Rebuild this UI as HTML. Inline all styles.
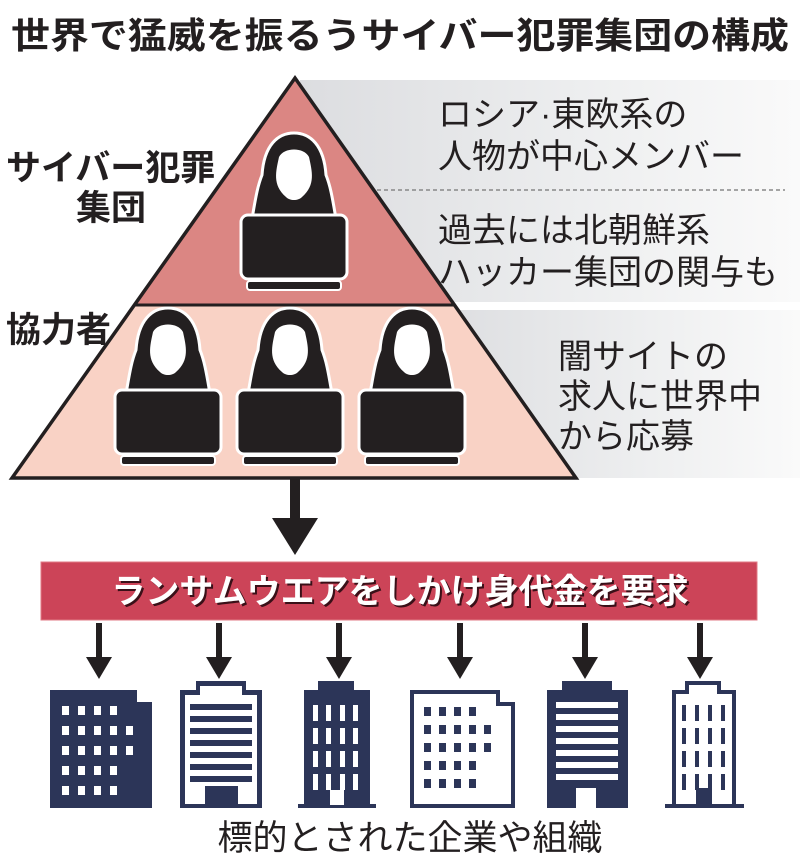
<!DOCTYPE html>
<html><head><meta charset="utf-8"><style>
html,body{margin:0;padding:0;background:#fff;}
svg{display:block;}
text{font-family:"Liberation Sans","Noto Sans CJK JP",sans-serif;}
</style></head><body>
<svg width="800" height="863" viewBox="0 0 800 863" xmlns="http://www.w3.org/2000/svg">
<defs>
<linearGradient id="g" x1="0" x2="1" y1="0" y2="0">
<stop offset="0" stop-color="#dcdde0"/><stop offset="0.6" stop-color="#eeeff0"/><stop offset="1" stop-color="#fafafa"/>
</linearGradient>
<g id="hk">
<path d="M-42,84 C-38,60 -36,50 -32,40 C-30,10 -16,-2 0,-2 C16,-2 30,10 32,40 C36,50 38,60 42,84 Z" fill="#231f20" stroke="#fff" stroke-width="3"/>
<path d="M-15,22 C-18,36 -22,50 -8,62 C-4,66 4,66 8,62 C22,50 18,36 15,22 C10,12 -10,12 -15,22 Z" fill="#fff"/>
<rect x="-53" y="80" width="106" height="64" rx="7" fill="#231f20" stroke="#fff" stroke-width="3"/>
<rect x="-47" y="146" width="94" height="9" rx="3" fill="#231f20" stroke="#fff" stroke-width="2"/>
</g>
<g id="ar"><rect x="-3" y="0" width="6" height="38" fill="#231f20"/><polygon points="-13,34 13,34 0,56" fill="#231f20"/></g>
</defs>
<text x="400" y="48" text-anchor="middle" font-size="36" font-weight="bold" fill="#231f20" textLength="778" lengthAdjust="spacingAndGlyphs">世界で猛威を振るうサイバー犯罪集団の構成</text>
<rect x="300" y="80" width="500" height="222" fill="url(#g)"/>
<rect x="430" y="310" width="370" height="168" fill="url(#g)"/>
<line x1="258" y1="190" x2="785" y2="190" stroke="#888" stroke-width="1.5" stroke-dasharray="4,3"/>
<polygon points="295,78 134,305 455,305" fill="#db8683"/>
<polygon points="134,305 455,305 576,478 12,478" fill="#f9d2c5"/>
<polygon points="295,78 576,478 12,478" fill="none" stroke="#231f20" stroke-width="3.5" stroke-linejoin="miter"/>
<line x1="134" y1="305" x2="455" y2="305" stroke="#231f20" stroke-width="3"/>
<use href="#hk" x="294" y="135"/>
<use href="#hk" x="168" y="310"/>
<use href="#hk" x="290" y="310"/>
<use href="#hk" x="412" y="310"/>
<g font-size="34" fill="#231f20">
<text x="438" y="126">ロシア·東欧系の</text>
<text x="438" y="168">人物が中心メンバー</text>
<text x="438" y="242">過去には北朝鮮系</text>
<text x="438" y="284">ハッカー集団の関与も</text>
<text x="558" y="368">闇サイトの</text>
<text x="558" y="408">求人に世界中</text>
<text x="558" y="448">から応募</text>
</g>
<g font-size="35" font-weight="bold" fill="#231f20">
<text x="6" y="180">サイバー犯罪</text>
<text x="76" y="220">集団</text>
<text x="6" y="342">協力者</text>
</g>
<rect x="290" y="478" width="10" height="42" fill="#231f20"/>
<polygon points="272,518 318,518 295,555" fill="#231f20"/>
<rect x="41" y="562" width="716" height="58" fill="#cc4458" stroke="#e07a85" stroke-width="1"/>
<text x="402" y="605" text-anchor="middle" font-size="34" font-weight="bold" fill="#3a1018">ランサムウエアをしかけ身代金を要求</text>
<text x="400" y="603" text-anchor="middle" font-size="34" font-weight="bold" fill="#fff">ランサムウエアをしかけ身代金を要求</text>
<use href="#ar" x="99" y="623"/>
<use href="#ar" x="219" y="623"/>
<use href="#ar" x="339" y="623"/>
<use href="#ar" x="460" y="623"/>
<use href="#ar" x="585" y="623"/>
<use href="#ar" x="700" y="623"/>
<g fill="#2c3558">
<path d="M50,690 H137 V702 H152 V808 H50 Z"/>
<g fill="#fff">
<rect x="62" y="706" width="7" height="9"/><rect x="78" y="706" width="7" height="9"/><rect x="94" y="706" width="7" height="9"/><rect x="110" y="706" width="7" height="9"/>
<rect x="62" y="726" width="7" height="9"/><rect x="78" y="726" width="7" height="9"/><rect x="94" y="726" width="7" height="9"/><rect x="110" y="726" width="7" height="9"/><rect x="126" y="726" width="7" height="9"/>
<rect x="62" y="746" width="7" height="9"/><rect x="78" y="746" width="7" height="9"/><rect x="94" y="746" width="7" height="9"/><rect x="110" y="746" width="7" height="9"/><rect x="126" y="746" width="7" height="9"/>
<rect x="62" y="766" width="7" height="9"/><rect x="78" y="766" width="7" height="9"/><rect x="94" y="766" width="7" height="9"/><rect x="110" y="766" width="7" height="9"/>
<rect x="62" y="786" width="7" height="9"/><rect x="78" y="786" width="7" height="9"/><rect x="94" y="786" width="7" height="9"/><rect x="110" y="786" width="7" height="9"/>
</g>
<path d="M196,681 H246 V690 H262 V808 H180 V690 H196 Z"/>
<path d="M200,686 H242 V695 H257 V804 H238 V786 H205 V804 H185 V695 H200 Z" fill="#fff"/>
<g><rect x="190" y="704" width="62" height="6"/><rect x="190" y="716" width="62" height="6"/><rect x="190" y="728" width="62" height="6"/><rect x="190" y="740" width="62" height="6"/><rect x="190" y="752" width="62" height="6"/><rect x="190" y="764" width="62" height="6"/><rect x="190" y="776" width="62" height="6"/></g>
<path d="M318,681 H354 V690 H370 V804 H376 V808 H298 V804 H304 V690 H318 Z"/>
<g fill="#fff"><rect x="313" y="705" width="5" height="16"/><rect x="326" y="705" width="5" height="16"/><rect x="340" y="705" width="5" height="16"/><rect x="353" y="705" width="5" height="16"/>
<rect x="313" y="728" width="5" height="16"/><rect x="326" y="728" width="5" height="16"/><rect x="340" y="728" width="5" height="16"/><rect x="353" y="728" width="5" height="16"/>
<rect x="313" y="751" width="5" height="16"/><rect x="326" y="751" width="5" height="16"/><rect x="340" y="751" width="5" height="16"/><rect x="353" y="751" width="5" height="16"/>
<rect x="313" y="774" width="5" height="16"/><rect x="326" y="774" width="5" height="16"/><rect x="340" y="774" width="5" height="16"/><rect x="353" y="774" width="5" height="16"/>
<rect x="330" y="790" width="14" height="15"/></g>
<path d="M410,690 H500 V702 H515 V808 H410 Z"/>
<path d="M414,694 H496 V706 H511 V804 H414 Z" fill="#fff"/>
<g><rect x="424" y="707" width="7" height="9"/><rect x="439" y="707" width="7" height="9"/><rect x="454" y="707" width="7" height="9"/><rect x="469" y="707" width="7" height="9"/>
<rect x="424" y="725" width="7" height="9"/><rect x="439" y="725" width="7" height="9"/><rect x="454" y="725" width="7" height="9"/><rect x="469" y="725" width="7" height="9"/><rect x="484" y="725" width="7" height="9"/>
<rect x="424" y="743" width="7" height="9"/><rect x="439" y="743" width="7" height="9"/><rect x="454" y="743" width="7" height="9"/><rect x="469" y="743" width="7" height="9"/><rect x="484" y="743" width="7" height="9"/>
<rect x="424" y="761" width="7" height="9"/><rect x="439" y="761" width="7" height="9"/><rect x="454" y="761" width="7" height="9"/><rect x="469" y="761" width="7" height="9"/>
<rect x="424" y="779" width="7" height="9"/><rect x="439" y="779" width="7" height="9"/><rect x="454" y="779" width="7" height="9"/><rect x="469" y="779" width="7" height="9"/></g>
<path d="M562,681 H612 V690 H628 V808 H547 V690 H562 Z"/>
<g fill="#fff"><rect x="556" y="702" width="62" height="6"/><rect x="556" y="714" width="62" height="6"/><rect x="556" y="726" width="62" height="6"/><rect x="556" y="738" width="62" height="6"/><rect x="556" y="750" width="62" height="6"/><rect x="556" y="762" width="62" height="6"/><rect x="556" y="774" width="62" height="6"/>
<rect x="576" y="788" width="20" height="20"/></g>
<path d="M685,681 H721 V690 H736 V804 H744 V808 H665 V804 H672 V690 H685 Z"/>
<path d="M689,685 H717 V694 H732 V804 H676 V694 H689 Z" fill="#fff"/>
<g><rect x="682" y="705" width="4" height="16"/><rect x="695" y="705" width="4" height="16"/><rect x="708" y="705" width="4" height="16"/><rect x="721" y="705" width="4" height="16"/>
<rect x="682" y="728" width="4" height="16"/><rect x="695" y="728" width="4" height="16"/><rect x="708" y="728" width="4" height="16"/><rect x="721" y="728" width="4" height="16"/>
<rect x="682" y="751" width="4" height="16"/><rect x="695" y="751" width="4" height="16"/><rect x="708" y="751" width="4" height="16"/><rect x="721" y="751" width="4" height="16"/>
<rect x="682" y="774" width="4" height="16"/><rect x="695" y="774" width="4" height="16"/><rect x="708" y="774" width="4" height="16"/><rect x="721" y="774" width="4" height="16"/>
<rect x="696" y="788" width="16" height="17"/></g>
</g>
<text x="410" y="850" text-anchor="middle" font-size="35" fill="#231f20">標的とされた企業や組織</text>
</svg>
</body></html>
